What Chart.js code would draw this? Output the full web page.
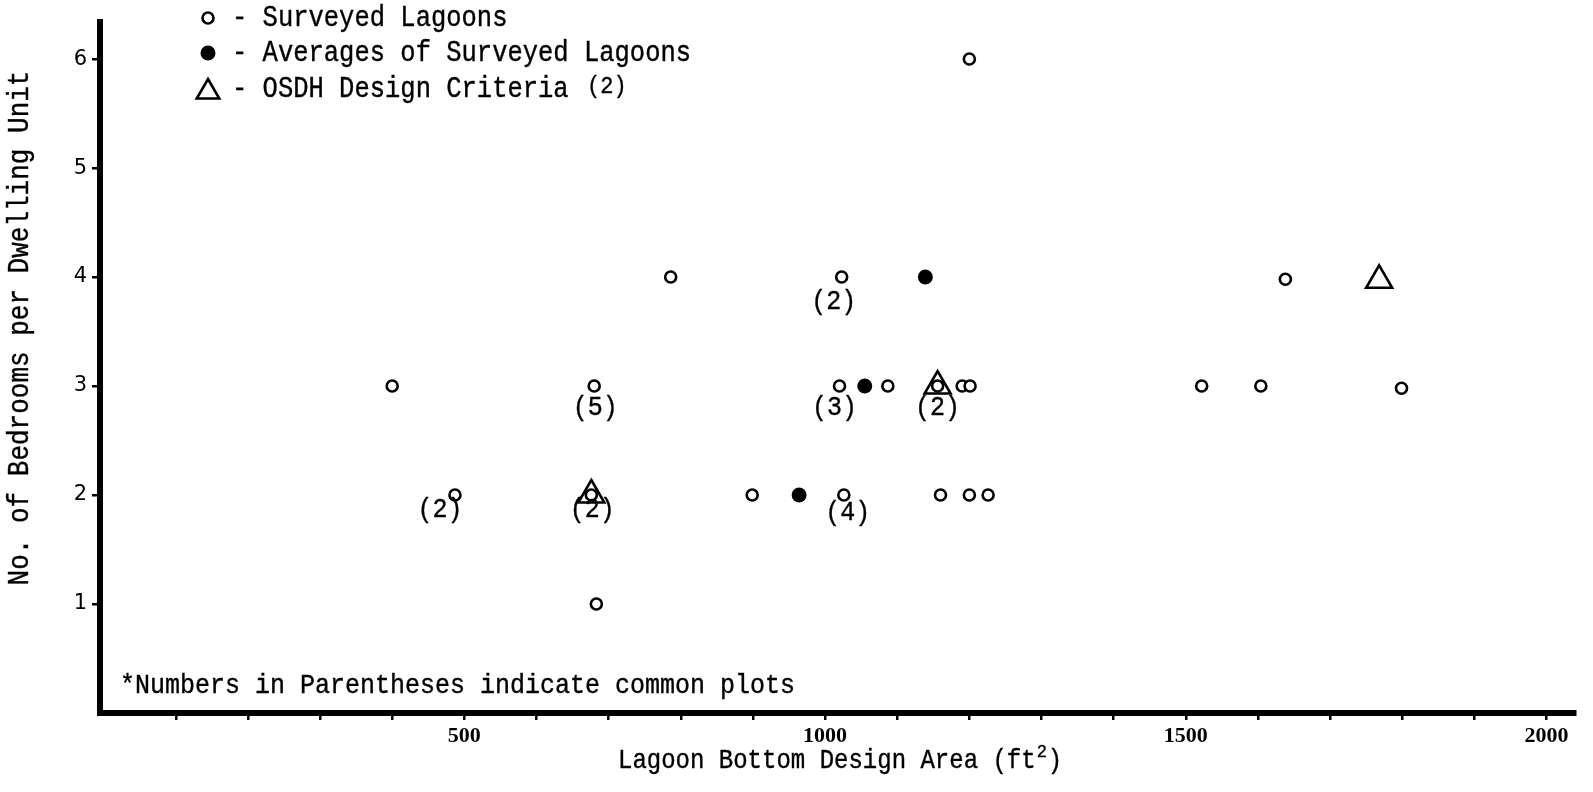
<!DOCTYPE html>
<html>
<head>
<meta charset="utf-8">
<script src="https://cdn.jsdelivr.net/npm/chart.js@4.4.1/dist/chart.umd.min.js"></script>
<style>
  html, body { margin: 0; padding: 0; background: #fff; }
  canvas { display: block; }
</style>
</head>
<body>
<canvas id="lagoons" width="1593" height="792"></canvas>
<script>
// Surveyed lagoons: bottom design area (ft²) and bedrooms per dwelling unit
const surveyedArea     = [400, 487, 680, 676, 683, 786, 899, 1023, 1020, 1026, 1087, 1156, 1190, 1201, 1200, 1160, 1200, 1226, 1522, 1604, 1638, 1799];
const surveyedBedrooms = [3,   2,   3,   2,   1,   4,   2,   4,    3,    2,    3,    3,    3,    3,    6,    2,    2,    2,    3,    3,    3.98, 2.98];
// number of surveys sharing the same plotted point
const surveyedCommon   = [1,   2,   5,   2,   1,   1,   1,   2,    3,    4,    1,    2,    1,    1,    1,    1,    1,    1,    1,    1,    1,    1];

// averages of the surveyed lagoons
const averageArea     = [964, 1055, 1139];
const averageBedrooms = [2, 3, 4];

// OSDH design criteria
const criteriaArea     = [676, 1156, 1768];
const criteriaBedrooms = [2, 3, 3.97];

const seriesNames = ['Surveyed Lagoons', 'Averages of Surveyed Lagoons', 'OSDH Design Criteria'];

const xTickValues = [100, 200, 300, 400, 500, 600, 700, 800, 900, 1000, 1100, 1200, 1300, 1400, 1500, 1600, 1700, 1800, 1900, 2000];
const xTickLabels = ['500', '1000', '1500', '2000'];
const yTickValues = [1, 2, 3, 4, 5, 6];
const yTickLabels = ['1', '2', '3', '4', '5', '6'];

const xTitle = 'Lagoon Bottom Design Area (ft';
const xTitleSup = '2';
const yTitle = 'No. of Bedrooms per Dwelling Unit';
const footnote = '*Numbers in Parentheses indicate common plots';
const criteriaRef = '(2)';

// ---- drawing ----
const TYPE_FONT = '"Liberation Mono", "Courier New", monospace';
const TYPE_STRETCH = 1.12;   // typewriter glyphs are a little taller than Courier

function toPoints(xs, ys) {
  return xs.map((x, i) => ({ x: x, y: ys[i] }));
}

// typewriter-style text: slightly heavier and taller than plain Liberation Mono
function typeText(ctx, str, x, y, size, align, angle) {
  ctx.save();
  ctx.translate(x, y);
  if (angle) ctx.rotate(angle);
  ctx.scale(1, TYPE_STRETCH);
  ctx.font = size + 'px ' + TYPE_FONT;
  ctx.textAlign = align || 'left';
  ctx.textBaseline = 'middle';
  ctx.fillStyle = '#000';
  ctx.strokeStyle = '#000';
  ctx.lineWidth = 0.35;
  ctx.fillText(str, 0, 0);
  ctx.strokeText(str, 0, 0);
  const w = ctx.measureText(str).width;
  ctx.restore();
  return w;
}

// pixel shifts of the "(n)" labels relative to their point
const countLabelShift = {
  1: [-15, 15], 2: [1, 22], 3: [1, 15], 7: [-8, 25],
  8: [-5, 22], 9: [4, 18], 11: [0, 22]
};

const annotations = {
  id: 'annotations',
  afterDatasetsDraw(chart) {
    const ctx = chart.ctx;
    const meta0 = chart.getDatasetMeta(0);
    surveyedCommon.forEach((n, i) => {
      if (n < 2) return;
      const el = meta0.data[i];
      const s = countLabelShift[i] || [0, 20];
      typeText(ctx, '(' + n + ')', el.x + s[0], el.y + s[1], 25, 'center');
    });
  },
  afterDraw(chart) {
    const ctx = chart.ctx;

    // legend, top-left inside the plot
    const rowY = [18, 53, 89];
    chart.data.datasets.forEach((ds, i) => {
      ctx.save();
      ctx.fillStyle = ds.backgroundColor;
      ctx.strokeStyle = ds.borderColor;
      ctx.lineWidth = ds.borderWidth;
      Chart.helpers.drawPoint(ctx, {
        pointStyle: ds.pointStyle,
        radius: i === 2 ? 13 : ds.pointRadius,
        borderWidth: ds.borderWidth,
        rotation: 0
      }, 208, rowY[i] + (i === 2 ? 3 : 0));
      ctx.restore();
      typeText(ctx, '- ' + ds.label, 232, rowY[i], 25.5, 'left');
    });
    typeText(ctx, criteriaRef, 587, 86, 22, 'left');

    // footnote
    typeText(ctx, footnote, 120, 686, 25, 'left');

    // x axis title with raised exponent
    const xStart = 618;
    const w1 = typeText(ctx, xTitle, xStart, 761, 24, 'left');
    const w2 = typeText(ctx, xTitleSup, xStart + w1 + 1, 752, 17, 'left');
    typeText(ctx, ')', xStart + w1 + w2 + 2, 761, 24, 'left');

    // y axis title
    typeText(ctx, yTitle, 20, 328, 26, 'center', -Math.PI / 2);
  }
};

new Chart(document.getElementById('lagoons'), {
  type: 'scatter',
  data: {
    datasets: [
      {
        label: seriesNames[0],
        data: toPoints(surveyedArea, surveyedBedrooms),
        pointStyle: 'circle',
        pointRadius: 5.5,
        borderWidth: 2.6,
        borderColor: '#000',
        backgroundColor: '#fff'
      },
      {
        label: seriesNames[1],
        data: toPoints(averageArea, averageBedrooms),
        pointStyle: 'circle',
        pointRadius: 7.5,
        borderWidth: 0,
        borderColor: '#000',
        backgroundColor: '#000'
      },
      {
        label: seriesNames[2],
        data: toPoints(criteriaArea, criteriaBedrooms),
        pointStyle: 'triangle',
        pointRadius: 15,
        borderWidth: 2.6,
        borderColor: '#000',
        backgroundColor: 'rgba(0,0,0,0)'
      }
    ]
  },
  options: {
    responsive: false,
    devicePixelRatio: 1,
    animation: false,
    events: [],
    layout: { padding: { top: 22, right: 13, left: 0, bottom: 0 } },
    plugins: {
      legend: { display: false },
      tooltip: { enabled: false },
      title: { display: false }
    },
    scales: {
      x: {
        type: 'linear',
        position: 'bottom',
        min: -5,
        max: 2040,
        afterFit(scale) { scale.height = 79; },
        afterBuildTicks(scale) { scale.ticks = xTickValues.map(v => ({ value: v })); },
        ticks: {
          autoSkip: false,
          maxRotation: 0,
          padding: 3,
          color: '#000',
          font: { family: '"Liberation Serif", serif', size: 22, weight: 'bold' },
          callback(value) {
            const s = String(value);
            return xTickLabels.includes(s) ? s : '';
          }
        },
        grid: { drawOnChartArea: false, drawTicks: true, tickLength: 7, color: '#000', lineWidth: 2.5 },
        border: { display: true, color: '#000', width: 6 }
      },
      y: {
        type: 'linear',
        position: 'left',
        min: 0,
        max: 6.34,
        afterFit(scale) { scale.width = 100; },
        afterBuildTicks(scale) { scale.ticks = yTickValues.map(v => ({ value: v })); },
        ticks: {
          autoSkip: false,
          padding: 5,
          color: '#000',
          font: { family: '"DejaVu Sans", sans-serif', size: 21 },
          callback(value, index) { return yTickLabels[index]; }
        },
        grid: { drawOnChartArea: false, drawTicks: true, tickLength: 8, color: '#000', lineWidth: 2.5 },
        border: { display: true, color: '#000', width: 6 }
      }
    }
  },
  plugins: [annotations]
});
</script>
</body>
</html>
